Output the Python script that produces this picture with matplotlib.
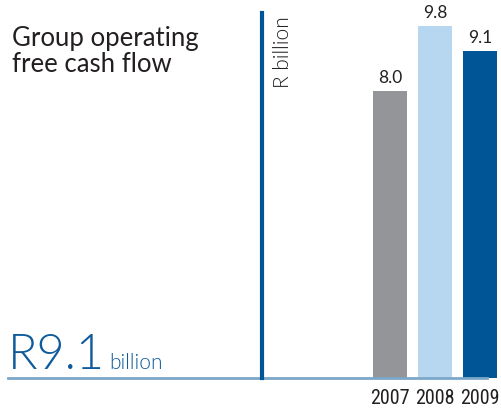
import matplotlib
matplotlib.use("Agg")
import matplotlib.pyplot as plt
from matplotlib import font_manager
from matplotlib.lines import Line2D

# free cash flow, R billion
years = ["2007", "2008", "2009"]
cash_flow = [8.0, 9.8, 9.1]
bar_colors = ["#939598", "#b7d6ef", "#005596"]
headline = "R9.1"

W, H = 501, 410
DPI = 100

fonts = font_manager.fontManager.ttflist
names = {f.name for f in fonts}
narrow = "DejaVu Sans"
narrow_stretch = "normal"
for cand in ("Liberation Sans Narrow", "Roboto Condensed", "Open Sans Condensed",
             "Noto Sans Condensed"):
    if cand in names:
        narrow = cand
        break
else:
    if any(f.name == "DejaVu Sans" and f.stretch == "condensed" for f in fonts):
        narrow_stretch = "condensed"
body = "Lato" if "Lato" in names else "DejaVu Sans"
light = 300 if any(f.name == body and f.weight in (300, "light") for f in fonts) else "normal"


def px(x, y):
    # pixel position (from top-left) to figure fraction
    return x / W, 1 - y / H


fig = plt.figure(figsize=(W / DPI, H / DPI), dpi=DPI)

# bar axes: baseline at y=379px, 0..10 spans 359px; bars 45px apart
left, base = 8, 379
right = 487
ax = fig.add_axes([left / W, (H - base) / H, (right - left) / W, 359 / H])
step = 45.0
ax.set_xlim(-(390 - left) / step, 2 + (right - 480) / step)
ax.set_ylim(0, 10)

xs = range(len(years))
bars = ax.bar(xs, cash_flow, width=34 / step, color=bar_colors, clip_on=False)
for b, v in zip(bars, cash_flow):
    ax.annotate(f"{v:.1f}", (b.get_x() + b.get_width() / 2, v),
                xytext=(0, 4.5), textcoords="offset points",
                ha="center", va="bottom", fontsize=12.5, color="#231f20",
                family=body)

ax.set_yticks([])
ax.set_xticks([])
for s in ("top", "right", "left"):
    ax.spines[s].set_visible(False)
ax.spines["bottom"].set_color("#7ba7c9")
ax.spines["bottom"].set_linewidth(2)
ax.patch.set_alpha(0)

# year labels, shrunk until each fits under its bar
renderer = fig.canvas.get_renderer()
size = 16
while size > 8:
    probe = fig.text(0, 0, "2008", fontsize=size, family=narrow,
                     fontstretch=narrow_stretch)
    wpx = probe.get_window_extent(renderer).width
    probe.remove()
    if wpx <= 41:
        break
    size -= 0.5
for i, yr in enumerate(years):
    ax.annotate(yr, (i, 0), xytext=(0, -7), textcoords="offset points",
                ha="center", va="top", fontsize=size, family=narrow,
                fontstretch=narrow_stretch, color="#231f20",
                annotation_clip=False)

# divider line and axis unit
x0, y0 = px(262, 14)
x1, y1 = px(262, base)
fig.add_artist(Line2D([x0, x1], [y0, y1], color="#005596", lw=3,
                      transform=fig.transFigure))
tx, ty = px(283, 88)
fig.text(tx, ty, "R billion", rotation=90, ha="center", va="bottom",
         fontsize=15, color="#231f20", family=body, fontweight=light)

# heading and headline figure
tx, ty = px(12, 26)
fig.text(tx, ty, "Group operating\nfree cash flow", ha="left", va="top",
         fontsize=18.5, color="#231f20", family=body, linespacing=1.05)
tx, ty = px(8, 369)
fig.text(tx, ty, headline, ha="left", va="baseline", fontsize=35,
         color="#0d5a9c", family=body, fontweight=light)
tx, ty = px(109, 369)
fig.text(tx, ty, "billion", ha="left", va="baseline", fontsize=15,
         color="#0d5a9c", family=body, fontweight=light)

fig.savefig("out.png", dpi=DPI)
